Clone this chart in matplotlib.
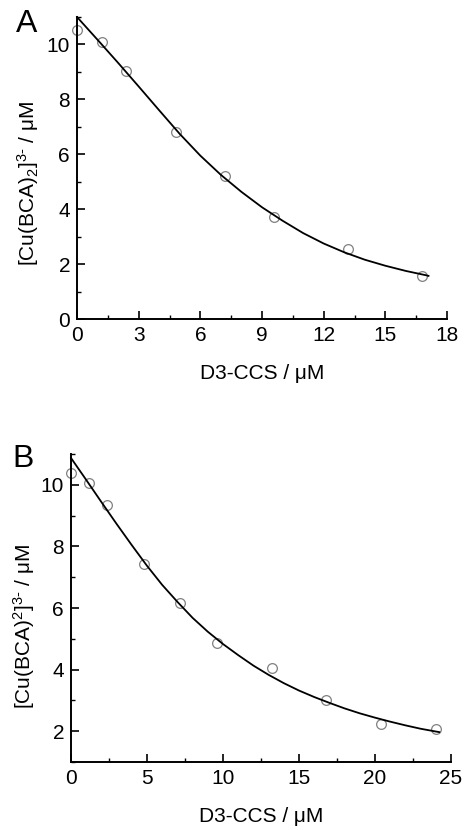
import matplotlib
matplotlib.use("Agg")
import matplotlib.pyplot as plt
from matplotlib.ticker import MultipleLocator

plt.rcParams["font.family"] = ["Liberation Sans", "DejaVu Sans"]
plt.rcParams["mathtext.fontset"] = "custom"
plt.rcParams["mathtext.rm"] = "Liberation Sans"
plt.rcParams["mathtext.it"] = "Liberation Sans:italic"
plt.rcParams["mathtext.default"] = "regular"

# Panel A: titration with D3-CCS (measured points and fitted curve)
a_ccs = [0.0, 1.2, 2.4, 4.8, 7.2, 9.6, 13.2, 16.8]
a_cu = [10.54, 10.09, 9.05, 6.82, 5.21, 3.72, 2.55, 1.57]
a_fit_x = [0, 1, 2, 3, 4, 5, 6, 7, 8, 9, 10, 11, 12, 13, 14, 15, 16, 17, 17.1]
a_fit_y = [11.0, 10.17, 9.33, 8.47, 7.60, 6.74, 5.95, 5.25, 4.63, 4.07,
           3.58, 3.13, 2.75, 2.43, 2.16, 1.94, 1.75, 1.59, 1.57]

# Panel B: extended titration
b_ccs = [0.0, 1.2, 2.4, 4.8, 7.2, 9.6, 13.2, 16.8, 20.4, 24.0]
b_cu = [10.38, 10.05, 9.33, 7.43, 6.15, 4.87, 4.05, 3.01, 2.25, 2.06]
b_fit_x = [0, 1, 2, 3, 4, 5, 6, 7, 8, 9, 10, 11, 12, 13, 14, 15, 16, 17,
           18, 19, 20, 21, 22, 23, 24, 24.23]
b_fit_y = [10.87, 10.16, 9.44, 8.73, 8.04, 7.37, 6.75, 6.20, 5.68, 5.23,
           4.83, 4.47, 4.13, 3.83, 3.56, 3.32, 3.11, 2.92, 2.74, 2.58,
           2.44, 2.31, 2.19, 2.08, 1.99, 1.97]

W, H = 465, 830
fig = plt.figure(figsize=(W / 100, H / 100), dpi=100)

FS = 15


def style_axes(ax):
    for side in ("top", "right"):
        ax.spines[side].set_visible(False)
    for side in ("left", "bottom"):
        ax.spines[side].set_linewidth(1.4)
    ax.tick_params(which="major", direction="in", length=5.5, width=1.2,
                   labelsize=FS, pad=5)
    ax.tick_params(which="minor", direction="in", length=3, width=1.0)


def panel(rect, xs, ys, fx, fy, xlim, ylim, xmaj, ymaj, ylabel, ylab_xy,
          letter, letter_pos):
    l, b, r, t = rect
    ax = fig.add_axes([l / W, 1 - b / H, (r - l) / W, (b - t) / H])
    ax.plot(xs, ys, linestyle="none", marker="o", markersize=7,
            markerfacecolor="none", markeredgecolor="#808080",
            markeredgewidth=0.9, zorder=2, clip_on=False)
    ax.plot(fx, fy, color="black", linewidth=1.3, zorder=3, clip_on=False)
    ax.set_xlim(*xlim)
    ax.set_ylim(*ylim)
    ax.xaxis.set_major_locator(MultipleLocator(xmaj))
    ax.xaxis.set_minor_locator(MultipleLocator(xmaj / 2))
    ax.yaxis.set_major_locator(MultipleLocator(ymaj))
    ax.yaxis.set_minor_locator(MultipleLocator(ymaj / 2))
    style_axes(ax)
    ax.set_xlabel("D3-CCS / μM", fontsize=FS, labelpad=14)
    ax.set_ylabel(ylabel, fontsize=FS)
    ax.yaxis.set_label_coords(*ylab_xy)
    fig.text(letter_pos[0] / W, 1 - letter_pos[1] / H, letter,
             fontsize=23, ha="left", va="top")
    return ax


panel((77, 319, 447, 17), a_ccs, a_cu, a_fit_x, a_fit_y,
      (0, 18), (0, 11), 3, 2,
      r"[Cu(BCA)$_2$]$^{3\text{-}}$ / μM", (-0.098, 0.45), "A", (16, 9))

panel((71, 762, 451, 454), b_ccs, b_cu, b_fit_x, b_fit_y,
      (0, 25), (1, 11), 5, 2,
      r"[Cu(BCA)$^2$]$^{3\text{-}}$ / μM", (-0.09, 0.44), "B", (12, 444))

fig.savefig("out.png", dpi=100)
